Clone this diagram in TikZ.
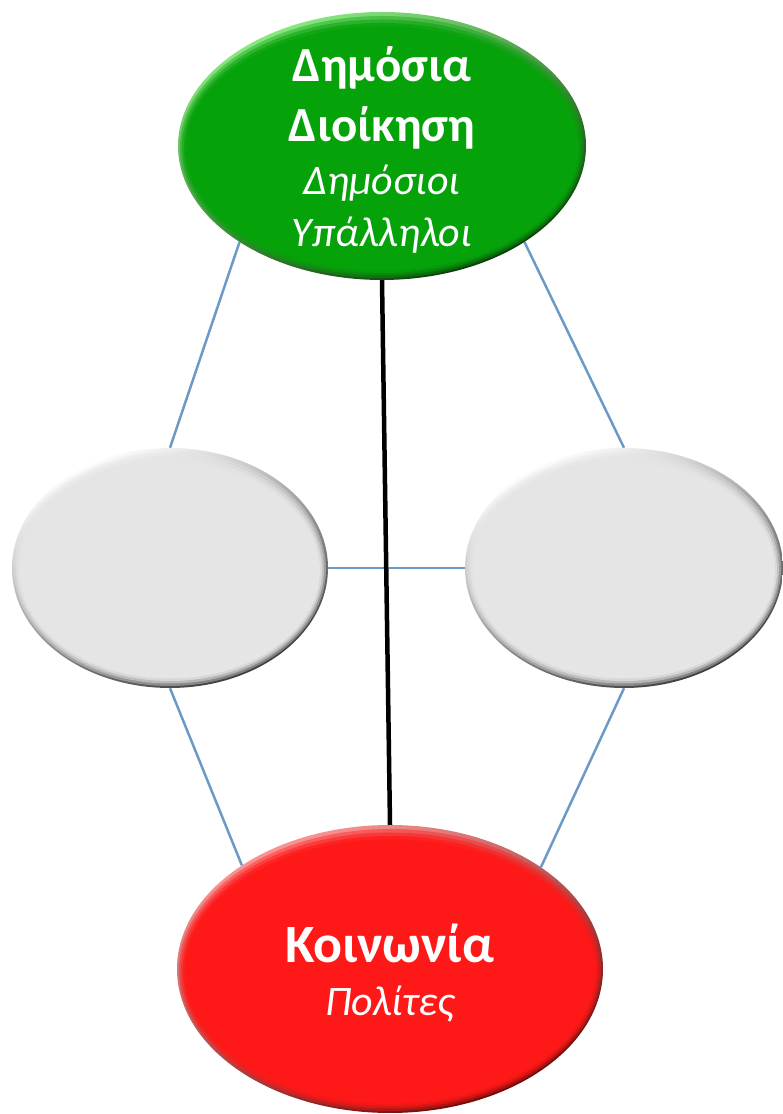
\documentclass[tikz,border=0pt]{standalone}
\usepackage{fontspec}
\setmainfont{Carlito}
\usetikzlibrary{shapes.geometric}
\definecolor{linkblue}{RGB}{108,154,198}
\definecolor{greenbase}{RGB}{6,162,10}
\definecolor{greenlight}{RGB}{140,235,130}
\definecolor{greendark}{RGB}{5,60,5}
\definecolor{redbase}{RGB}{255,24,24}
\definecolor{redlight}{RGB}{255,150,150}
\definecolor{reddark}{RGB}{110,5,5}
\definecolor{graybase}{RGB}{229,229,229}
\definecolor{graylight}{RGB}{255,255,255}
\definecolor{graydark}{RGB}{60,60,60}
\tikzset{
  oval/.style={ellipse, draw=none, inner sep=0pt},
  thinlink/.style={draw=linkblue, line width=2.5pt},
  thicklink/.style={draw=black, line width=4.5pt},
  titletext/.style={text=white, font=\fontsize{49}{58}\selectfont\bfseries, inner sep=0pt, anchor=base},
  subtext/.style={text=white, font=\fontsize{42}{50}\selectfont\itshape, inner sep=0pt, anchor=base},
}
% #1 node name, #2 rx, #3 ry, #4 base, #5 light, #6 dark
\newcommand\bevelfill[6]{%
  \shade[top color=#5, bottom color=#6, shading angle=25] (#1.center) ellipse ({#2} and {#3});
  \fill[#4, opacity=0.4] ([yshift=-1pt]#1.center) ellipse ({#2-2} and {#3-3});
  \fill[#4, opacity=0.5] ([yshift=-1.5pt]#1.center) ellipse ({#2-4} and {#3-6});
  \fill[#4, opacity=0.7] ([yshift=-2pt]#1.center) ellipse ({#2-6} and {#3-9});
  \fill[#4] ([yshift=-2.5pt]#1.center) ellipse ({#2-8} and {#3-12});
}
\begin{document}
\begin{tikzpicture}[x=1pt,y=1pt]
\useasboundingbox (0,0) rectangle (783,1114);
% invisible nodes for the ovals
\node[oval, minimum width=408pt, minimum height=268pt] (top) at (382,968) {};
\node[oval, minimum width=316pt, minimum height=240pt] (left) at (170,546) {};
\node[oval, minimum width=318pt, minimum height=240pt] (right) at (624,546) {};
\node[oval, minimum width=426pt, minimum height=288pt] (bot) at (390,145) {};
% connectors
\draw[thinlink] (top.214) -- (left.north);
\draw[thinlink] (top.-34) -- (right.north);
\draw[thinlink] (left.east) -- (right.west);
\draw[thinlink] (left.south) -- (bot.145.5);
\draw[thinlink] (right.south) -- (bot.34.5);
\draw[thicklink] (top.south) -- (bot.north);
% ovals
\bevelfill{top}{204}{134}{greenbase}{greenlight}{greendark}
\bevelfill{left}{158}{120}{graybase}{graylight}{graydark}
\bevelfill{right}{159}{120}{graybase}{graylight}{graydark}
\bevelfill{bot}{213}{144}{redbase}{redlight}{reddark}
% texts
\node[titletext] (t1) at (382,1032) {Δημόσια};
\node[titletext] (t2) at (382,972) {Διοίκηση};
\node[subtext] (t3) at (382,919) {Δημόσιοι};
\node[subtext] (t4) at (382,867) {Υπάλληλοι};
\node[titletext, font=\fontsize{54}{64}\selectfont\bfseries] (b1) at (390,151) {Κοινωνία};
\node[subtext] (b2) at (390,98) {Πολίτες};
\end{tikzpicture}
\end{document}
